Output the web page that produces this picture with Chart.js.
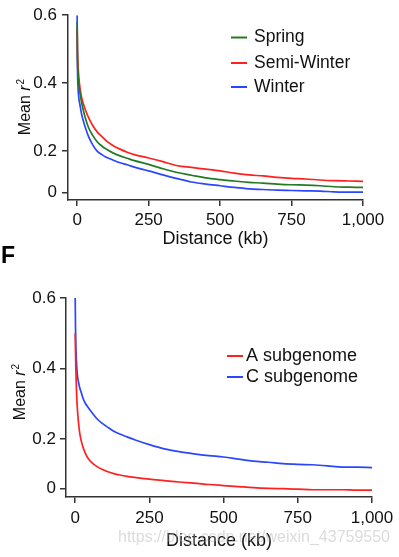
<!DOCTYPE html>
<html>
<head>
<meta charset="utf-8">
<script src="https://cdn.jsdelivr.net/npm/chart.js@4.4.1/dist/chart.umd.min.js"></script>
<style>
  body { margin: 0; background: #fff; }
  #wrap { position: relative; width: 399px; height: 557px; background: #fff; }
  canvas { position: absolute; left: 0; }
</style>
</head>
<body>
<div id="wrap">
  <canvas id="ldTop" width="399" height="250" style="top:0"></canvas>
  <canvas id="ldBottom" width="399" height="319" style="top:238px"></canvas>
</div>
<script>
const FONT = "'Liberation Sans', Arial, sans-serif";

// ---- data: top panel (ecotypes) ----
const topDist = [0, 1, 3, 6, 10, 15, 20, 30, 40, 55, 70, 85, 100, 125, 150, 175, 200, 250, 300, 350, 400, 450, 500, 550, 600, 650, 700, 750, 800, 850, 900, 950, 1000];
const springR2 = [0.58, 0.48, 0.43, 0.395, 0.37, 0.345, 0.325, 0.293, 0.268, 0.245, 0.227, 0.215, 0.206, 0.194, 0.185, 0.178, 0.171, 0.160, 0.147, 0.136, 0.128, 0.120, 0.115, 0.111, 0.107, 0.105, 0.102, 0.100, 0.099, 0.097, 0.094, 0.093, 0.092];
const semiWinterR2 = [0.56, 0.50, 0.455, 0.415, 0.385, 0.36, 0.343, 0.318, 0.298, 0.274, 0.256, 0.243, 0.231, 0.216, 0.205, 0.196, 0.189, 0.179, 0.168, 0.156, 0.151, 0.146, 0.141, 0.134, 0.129, 0.126, 0.122, 0.119, 0.117, 0.114, 0.112, 0.111, 0.110];
const winterR2 = [0.60, 0.46, 0.39, 0.355, 0.335, 0.31, 0.293, 0.265, 0.242, 0.217, 0.199, 0.190, 0.182, 0.173, 0.165, 0.159, 0.152, 0.141, 0.129, 0.118, 0.108, 0.102, 0.097, 0.092, 0.088, 0.086, 0.084, 0.083, 0.082, 0.081, 0.079, 0.078, 0.078];
const topLabels = ['Spring', 'Semi-Winter', 'Winter'];
const topYTickValues = [0.0766, 0.2, 0.4, 0.6];

// ---- data: bottom panel F (subgenomes) ----
const botDist = [0, 1, 2, 4, 6, 8, 11, 15, 20, 27, 35, 45, 60, 75, 90, 110, 130, 150, 175, 200, 250, 300, 350, 400, 450, 500, 550, 600, 650, 700, 750, 800, 850, 900, 950, 1000];
const aSubR2 = [0.50, 0.45, 0.405, 0.345, 0.305, 0.278, 0.248, 0.218, 0.196, 0.175, 0.158, 0.143, 0.130, 0.121, 0.114, 0.107, 0.102, 0.098, 0.094, 0.091, 0.086, 0.082, 0.078, 0.075, 0.071, 0.068, 0.065, 0.062, 0.060, 0.059, 0.058, 0.056, 0.056, 0.056, 0.055, 0.055];
const cSubR2 = [0.60, 0.52, 0.47, 0.425, 0.395, 0.377, 0.362, 0.346, 0.333, 0.314, 0.300, 0.288, 0.271, 0.256, 0.245, 0.233, 0.222, 0.214, 0.206, 0.198, 0.184, 0.172, 0.164, 0.158, 0.153, 0.149, 0.143, 0.137, 0.134, 0.130, 0.128, 0.127, 0.124, 0.120, 0.120, 0.119];
const botLabels = ['A subgenome', 'C subgenome'];
const botYTickValues = [0.06, 0.2, 0.4, 0.6];

// shared tick labels
const yTickLabels = ['0', '0.2', '0.4', '0.6'];
const xTickValues = [0, 250, 500, 750, 1000];
const xTickLabels = ['0', '250', '500', '750', '1,000'];

function pts(xs, ys) {
  return xs.map((x, i) => ({ x: x, y: ys[i] }));
}

// draws y title (Mean r2), inline legend and loose texts
const extrasPlugin = {
  id: 'extras',
  afterDraw(chart, args, opts) {
    const ctx = chart.ctx;
    ctx.save();
    ctx.fillStyle = '#111';

    // y axis title with italic r and superscript 2
    const t = opts.yTitle;
    const s = t.size;
    const parts = [
      { text: 'Mean ', font: s + 'px ' + FONT, rise: 0 },
      { text: 'r', font: 'italic ' + s + 'px ' + FONT, rise: 0 },
      { text: '2', font: Math.round(s * 0.62) + 'px ' + FONT, rise: s * 0.4 }
    ];
    let total = 0;
    parts.forEach(p => { ctx.font = p.font; p.w = ctx.measureText(p.text).width; total += p.w; });
    ctx.save();
    ctx.translate(t.x, t.y);
    ctx.rotate(-Math.PI / 2);
    ctx.textBaseline = 'alphabetic';
    let px = -total / 2;
    parts.forEach(p => {
      ctx.font = p.font;
      ctx.fillText(p.text, px, s * 0.36 - p.rise);
      px += p.w + (p.text === 'r' ? 1 : 0);
    });
    ctx.restore();

    // legend inside the plot
    const lg = opts.legend;
    chart.data.datasets.forEach((ds, i) => {
      const y = lg.rows[i];
      ctx.strokeStyle = ds.borderColor;
      ctx.lineWidth = 2;
      ctx.beginPath();
      ctx.moveTo(lg.x0, y);
      ctx.lineTo(lg.x1, y);
      ctx.stroke();
      ctx.font = lg.size + 'px ' + FONT;
      ctx.textBaseline = 'middle';
      ctx.textAlign = 'left';
      ctx.fillStyle = '#111';
      ctx.fillText(ds.label, lg.tx, y);
    });

    // other texts (panel letter, watermark)
    (opts.texts || []).forEach(tx => {
      ctx.font = tx.font;
      ctx.fillStyle = tx.color;
      ctx.textBaseline = 'middle';
      ctx.textAlign = 'left';
      if (tx.width) {
        const w = ctx.measureText(tx.text).width;
        ctx.save();
        ctx.translate(tx.x, tx.y);
        ctx.scale(tx.width / w, 1);
        ctx.fillText(tx.text, 0, 0);
        ctx.restore();
      } else {
        ctx.fillText(tx.text, tx.x, tx.y);
      }
    });
    ctx.restore();
  }
};

function axisStyle() {
  return {
    grid: { display: true, drawOnChartArea: false, drawTicks: true, tickLength: 6, color: '#333', lineWidth: 1.5 },
    border: { display: true, color: '#333', width: 1.5 }
  };
}

function makeChart(id, datasets, cfg) {
  return new Chart(document.getElementById(id).getContext('2d'), {
    type: 'line',
    data: { datasets: datasets },
    options: {
      responsive: false,
      animation: false,
      layout: { padding: cfg.padding },
      scales: {
        x: Object.assign({
          type: 'linear',
          min: cfg.xMin,
          max: 1000,
          afterBuildTicks: sc => { sc.ticks = xTickValues.map(v => ({ value: v })); },
          afterFit: sc => { sc.height = cfg.xHeight; },
          ticks: {
            autoSkip: false, maxRotation: 0,
            padding: cfg.xPad,
            color: '#111',
            font: { family: FONT, size: 17 },
            callback: (v, i) => xTickLabels[i]
          },
          title: {
            display: true, text: 'Distance (kb)', color: '#111',
            font: { family: FONT, size: 18 },
            padding: cfg.titlePad
          }
        }, axisStyle()),
        y: Object.assign({
          type: 'linear',
          min: cfg.yMin,
          max: 0.6,
          afterBuildTicks: sc => { sc.ticks = cfg.yTicks.map(v => ({ value: v })); },
          afterFit: sc => { sc.width = cfg.yWidth; },
          ticks: {
            padding: cfg.yPad,
            color: '#111',
            font: { family: FONT, size: 17 },
            callback: (v, i) => yTickLabels[i]
          }
        }, axisStyle())
      },
      plugins: {
        legend: { display: false },
        tooltip: { enabled: false },
        extras: cfg.extras
      }
    },
    plugins: [extrasPlugin]
  });
}

function line(label, xs, ys, color) {
  return {
    label: label,
    data: pts(xs, ys),
    borderColor: color,
    backgroundColor: color,
    borderWidth: 1.7,
    pointRadius: 0,
    fill: false,
    cubicInterpolationMode: 'monotone'
  };
}

// top panel
const chartTop = makeChart('ldTop', [
  line(topLabels[0], topDist, springR2, '#237a23'),
  line(topLabels[1], topDist, semiWinterR2, '#ff2020'),
  line(topLabels[2], topDist, winterR2, '#2a46ff')
], {
  padding: { left: 0, top: 15, right: 36, bottom: 0 },
  xMin: -32, yMin: 0.055, yTicks: topYTickValues,
  xHeight: 50, yWidth: 68, xPad: 4, yPad: 5,
  titlePad: { top: 0, bottom: 0 },
  extras: {
    yTitle: { x: 24.5, y: 107.5, size: 16 },
    legend: { x0: 231, x1: 247, tx: 254, rows: [37.5, 63, 87], size: 17.5 },
    texts: []
  }
});

// bottom panel F
const chartBottom = makeChart('ldBottom', [
  line(botLabels[0], botDist, aSubR2, '#ff2020'),
  line(botLabels[1], botDist, cSubR2, '#2a46ff')
], {
  padding: { left: 0, top: 60, right: 27, bottom: 0 },
  xMin: -31, yMin: 0.0355, yTicks: botYTickValues,
  xHeight: 60, yWidth: 66, xPad: 5, yPad: 4,
  titlePad: { top: 5, bottom: 5 },
  extras: {
    yTitle: { x: 19.5, y: 154.5, size: 16 },
    legend: { x0: 227, x1: 243, tx: 246, rows: [118, 139], size: 18 },
    texts: [
      { text: 'F', x: 1, y: 19, font: 'bold 23px ' + FONT, color: '#000' },
      { text: 'https://blog.csdn.net/weixin_43759550', x: 118, y: 300, font: '16px ' + FONT, color: 'rgba(175,175,175,0.45)', width: 272 }
    ]
  }
});
</script>
</body>
</html>
